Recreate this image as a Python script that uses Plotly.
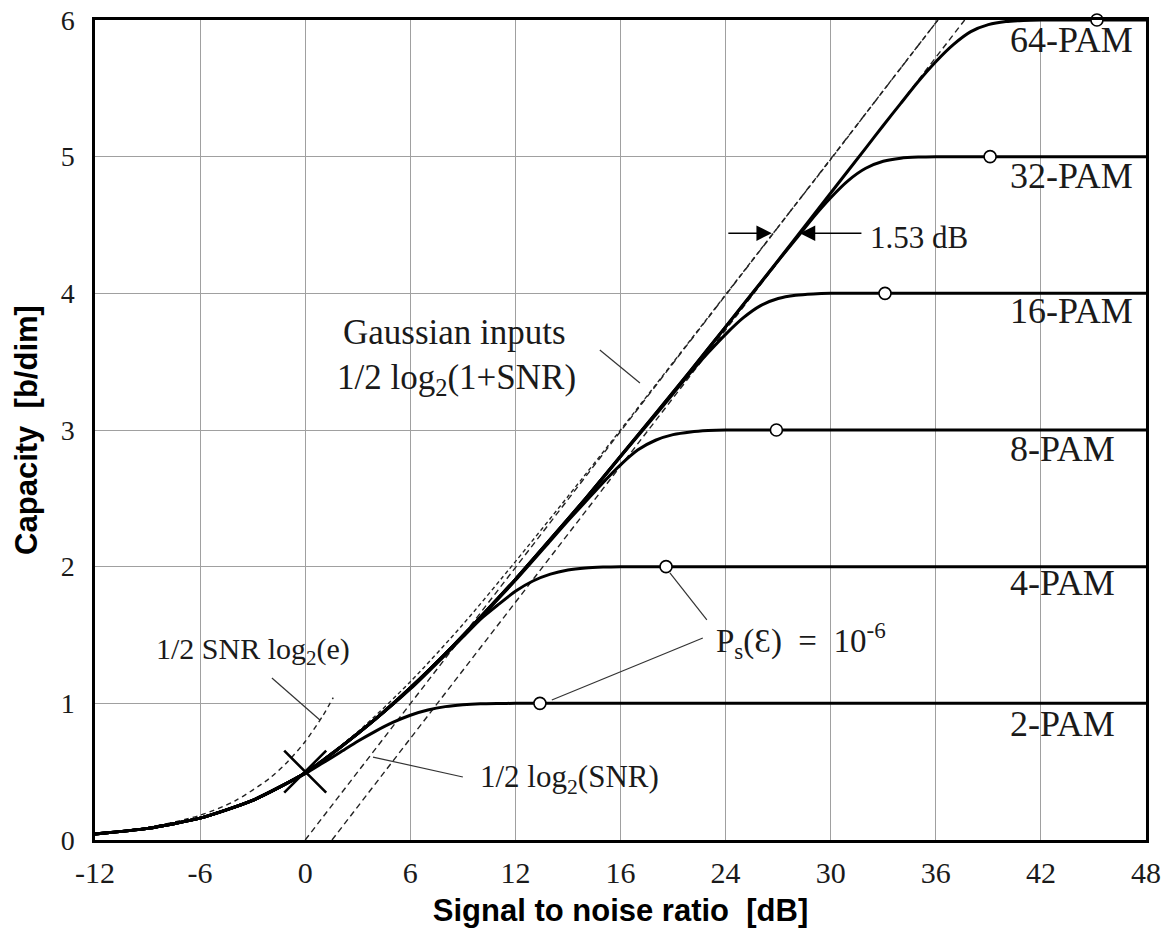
import plotly.graph_objects as go

# ---------------- data ----------------
# x tick positions (dB) and their printed labels
tick_db = [-12, -6, 0, 6, 12, 18, 24, 30, 36, 42, 48]
tick_txt = ["-12", "-6", "0", "6", "12", "16", "24", "30", "36", "42", "48"]

# M-PAM capacity curves [b/dim] versus SNR [dB]
pam2_snr = [-12, -9, -6, -3, 0, 1, 2, 3, 4, 5, 6, 7, 8, 9, 10, 11, 12, 14, 20, 30, 48]
pam2_cap = [0.044, 0.085, 0.16, 0.29, 0.485, 0.563, 0.642, 0.722, 0.795, 0.86, 0.913,
            0.951, 0.976, 0.99, 0.997, 0.999, 1.0, 1.0, 1.0, 1.0, 1.0]

pam4_snr = [-12, -9, -6, -3, 0, 2, 4, 6, 8, 9, 10, 11, 12, 13, 14, 15, 16, 17, 18, 20, 30, 48]
pam4_cap = [0.044, 0.085, 0.16, 0.29, 0.49, 0.678, 0.883, 1.105, 1.355, 1.485, 1.615, 1.72,
            1.82, 1.895, 1.945, 1.975, 1.99, 1.997, 2.0, 2.0, 2.0, 2.0]

pam8_snr = [-12, -9, -6, -3, 0, 2, 4, 6, 8, 10, 12, 14, 15, 16, 17, 18, 19, 20, 21, 22, 23,
            24, 26, 36, 48]
pam8_cap = [0.044, 0.085, 0.16, 0.29, 0.49, 0.678, 0.884, 1.113, 1.362, 1.628, 1.9, 2.19,
            2.335, 2.475, 2.615, 2.745, 2.855, 2.925, 2.966, 2.986, 2.996, 3.0, 3.0, 3.0, 3.0]

pam16_snr = [-12, -9, -6, -3, 0, 2, 4, 6, 8, 10, 12, 14, 16, 18, 20, 21, 22, 23, 24, 25, 26,
             27, 28, 29, 30, 32, 40, 48]
pam16_cap = [0.044, 0.085, 0.16, 0.29, 0.49, 0.678, 0.884, 1.113, 1.363, 1.63, 1.907, 2.2,
             2.497, 2.805, 3.11, 3.265, 3.42, 3.565, 3.70, 3.82, 3.91, 3.962, 3.986, 3.996,
             4.0, 4.0, 4.0, 4.0]

pam32_snr = [-12, -9, -6, -3, 0, 2, 4, 6, 8, 10, 12, 14, 16, 18, 20, 22, 24, 26, 27, 28, 29,
             30, 31, 32, 33, 34, 35, 36, 38, 48]
pam32_cap = [0.044, 0.085, 0.16, 0.29, 0.49, 0.678, 0.884, 1.113, 1.363, 1.63, 1.907, 2.2,
             2.498, 2.808, 3.12, 3.434, 3.755, 4.075, 4.238, 4.395, 4.555, 4.70, 4.825, 4.915,
             4.966, 4.989, 4.997, 5.0, 5.0, 5.0]

pam64_snr = [-12, -9, -6, -3, 0, 2, 4, 6, 8, 10, 12, 14, 16, 18, 20, 22, 24, 26, 28, 30, 32,
             33, 34, 35, 36, 37, 38, 39, 40, 41, 42, 44, 48]
pam64_cap = [0.044, 0.085, 0.16, 0.29, 0.49, 0.678, 0.884, 1.113, 1.363, 1.63, 1.907, 2.2,
             2.498, 2.808, 3.12, 3.434, 3.755, 4.078, 4.405, 4.734, 5.063, 5.228, 5.39, 5.55,
             5.695, 5.82, 5.915, 5.966, 5.989, 5.997, 6.0, 6.0, 6.0]

# Gaussian-input capacity 1/2 log2(1+SNR)
gauss_snr = [-12, -9, -6, -3, 0, 3, 6, 9, 12, 15, 18, 21, 24, 27, 30, 33, 36.12]
gauss_cap = [0.044, 0.085, 0.162, 0.292, 0.5, 0.792, 1.158, 1.577, 2.037, 2.514, 3.0, 3.494,
             3.99, 4.486, 4.98, 5.483, 6.0]

# low-SNR approximation 1/2 SNR log2(e)
low_snr = [-12, -9, -6, -4, -2, -1, 0, 1, 1.6]
low_cap = [0.0455, 0.0907, 0.181, 0.287, 0.455, 0.573, 0.721, 0.908, 1.042]

# high-SNR asymptote 1/2 log2(SNR) and the same shifted by 1.53 dB
asym_snr = [0, 36.12]
asym_cap = [0, 6]
shift_snr = [1.53, 37.65]
shift_cap = [0, 6]

# symbol error rate 1e-6 points on each PAM curve
ser_snr = [13.4, 20.6, 26.9, 33.1, 39.1, 45.2]
ser_cap = [1, 2, 3, 4, 5, 6]

# crossing mark
cross_snr = [0]
cross_cap = [0.5]

pam_names = ["2-PAM", "4-PAM", "8-PAM", "16-PAM", "32-PAM", "64-PAM"]
pam_label_cap = [0.849, 1.880, 2.861, 3.871, 4.858, 5.854]

# ---------------- figure ----------------
fig = go.Figure()

thin = dict(color="#222222", width=1.4)
fig.add_trace(go.Scatter(x=gauss_snr, y=gauss_cap, mode="lines",
                         line=dict(**thin, dash="4px,3px", shape="spline", smoothing=0.8)))
fig.add_trace(go.Scatter(x=low_snr, y=low_cap, mode="lines",
                         line=dict(**thin, dash="5px,4px", shape="spline", smoothing=0.8)))
fig.add_trace(go.Scatter(x=asym_snr, y=asym_cap, mode="lines",
                         line=dict(**thin, dash="6px,4px")))
fig.add_trace(go.Scatter(x=shift_snr, y=shift_cap, mode="lines",
                         line=dict(**thin, dash="6px,4px")))

for xs, ys in [(pam2_snr, pam2_cap), (pam4_snr, pam4_cap), (pam8_snr, pam8_cap),
               (pam16_snr, pam16_cap), (pam32_snr, pam32_cap), (pam64_snr, pam64_cap)]:
    fig.add_trace(go.Scatter(x=xs, y=ys, mode="lines",
                             line=dict(color="black", width=3, shape="spline", smoothing=0.6)))

fig.add_trace(go.Scatter(x=ser_snr, y=ser_cap, mode="markers", cliponaxis=False,
                         marker=dict(symbol="circle", size=12, color="white",
                                     line=dict(color="black", width=1.6))))
fig.add_trace(go.Scatter(x=cross_snr, y=cross_cap, mode="markers", cliponaxis=False,
                         marker=dict(symbol="x-thin", size=42,
                                     line=dict(color="black", width=2.6))))

serif = "Liberation Serif, Times New Roman, serif"
txt_col = "#1a1a1a"

annotations = []
for name, yv in zip(pam_names, pam_label_cap):
    annotations.append(dict(x=40.1, y=yv, xref="x", yref="y", text=name, showarrow=False,
                            xanchor="left", yanchor="middle",
                            font=dict(family=serif, size=36, color=txt_col)))

labels = [
    (8.55, 3.717, "Gaussian inputs", 35),
    (8.66, 3.373, "1/2 log<sub>2</sub>(1+SNR)", 35),
    (-2.98, 1.383, "1/2 SNR log<sub>2</sub>(e)", 30),
    (15.06, 0.446, "1/2 log<sub>2</sub>(SNR)", 31),
    (28.3, 1.463, "P<sub>s</sub>(Ɛ) \u00a0= \u00a010<sup>-6</sup>", 33),
    (35.03, 4.41, "1.53 dB", 31),
]
for lx, ly, lt, ls in labels:
    annotations.append(dict(x=lx, y=ly, xref="x", yref="y", text=lt, showarrow=False,
                            xanchor="center", yanchor="middle",
                            font=dict(family=serif, size=ls, color=txt_col)))

# 1.53 dB arrows
annotations += [
    dict(x=26.64, y=4.44, ax=24.07, ay=4.44, xref="x", yref="y", axref="x", ayref="y",
         text="", showarrow=True, arrowhead=2, arrowsize=2.2, arrowwidth=1.4,
         arrowcolor="black"),
    dict(x=28.24, y=4.44, ax=31.84, ay=4.44, xref="x", yref="y", axref="x", ayref="y",
         text="", showarrow=True, arrowhead=2, arrowsize=2.2, arrowwidth=1.4,
         arrowcolor="black"),
]

leader = dict(color="#333333", width=1.2)
shapes = [
    dict(type="line", x0=16.82, y0=3.585, x1=19.11, y1=3.344, line=leader),
    dict(type="line", x0=-1.9, y0=1.185, x1=0.84, y1=0.878, line=leader),
    dict(type="line", x0=9.0, y0=0.461, x1=3.87, y1=0.607, line=leader),
    dict(type="line", x0=22.93, y0=1.61, x1=20.82, y1=1.954, line=leader),
    dict(type="line", x0=22.7, y0=1.478, x1=14.08, y1=1.024, line=leader),
]
for s in shapes:
    s.update(xref="x", yref="y")

fig.update_layout(
    width=1168, height=939,
    margin=dict(l=95, r=22, t=20, b=99),
    paper_bgcolor="white", plot_bgcolor="white",
    showlegend=False,
    annotations=annotations,
    shapes=shapes,
    xaxis=dict(
        range=[-12, 48], tickvals=tick_db, ticktext=tick_txt, automargin=False,
        showgrid=True, gridcolor="#a0a0a0", gridwidth=1,
        showline=True, linecolor="black", linewidth=2.5, mirror=True,
        zeroline=False, ticks="", ticklabelstandoff=4,
        tickfont=dict(family=serif, size=30, color=txt_col),
        title=dict(text="Signal to noise ratio \u00a0[dB]", standoff=12,
                   font=dict(family="Liberation Sans, Arial, sans-serif", size=31,
                             color="black", weight="bold")),
    ),
    yaxis=dict(
        range=[0, 6], dtick=1, tick0=0, automargin=False,
        showgrid=True, gridcolor="#a0a0a0", gridwidth=1,
        showline=True, linecolor="black", linewidth=2.5, mirror=True,
        zeroline=False, ticks="", ticklabelstandoff=12,
        tickfont=dict(family=serif, size=28, color=txt_col),
        title=dict(text="Capacity \u00a0[b/dim]", standoff=14,
                   font=dict(family="Liberation Sans, Arial, sans-serif", size=31,
                             color="black", weight="bold")),
    ),
)

fig.write_html("out.html", config={"displayModeBar": False},
               post_script="document.body.style.margin='0';")
